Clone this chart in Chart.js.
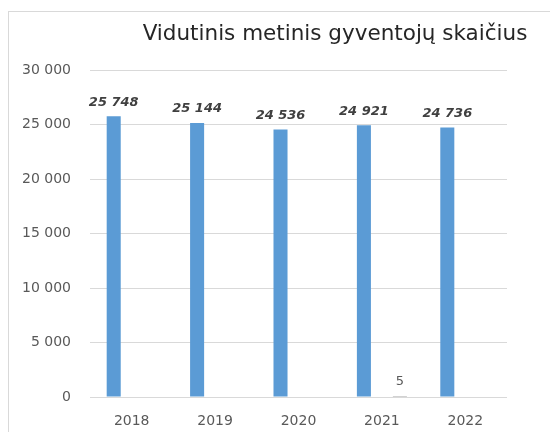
<!DOCTYPE html>
<html>
<head>
<meta charset="utf-8">
<script src="https://cdn.jsdelivr.net/npm/chart.js@4"></script>
<style>
  html, body { margin: 0; background: #fff; overflow: hidden; }
  #frame { position: absolute; left: 8px; top: 11px; width: 541px; height: 420px;
           border-left: 1px solid #d9d9d9; border-top: 1px solid #d9d9d9; }
  #wrap { position: absolute; left: 0; top: 0; width: 550px; height: 432px; }
</style>
</head>
<body>
<div id="frame"></div>
<div id="wrap"><canvas id="chart" width="550" height="432"></canvas></div>
<script>
const chartTitle = "Vidutinis metinis gyventojų skaičius";
const years = ["2018", "2019", "2020", "2021", "2022"];
const population = [25748, 25144, 24536, 24921, 24736];
const otherSeries = [null, null, null, 5, null];
const yTicks = [0, 5000, 10000, 15000, 20000, 25000, 30000];

function fmt(v) {
    return String(v).replace(/\B(?=(\d{3})+(?!\d))/g, " ");
}

// draws the title and the value labels above the bars
const labelPlugin = {
    id: "labels",
    afterDatasetsDraw(chart) {
        const ctx = chart.ctx;
        ctx.save();
        ctx.fillStyle = "#262626";
        ctx.font = "21.5px 'DejaVu Sans'";
        ctx.textAlign = "center";
        ctx.textBaseline = "middle";
        ctx.fillText(chartTitle, 335, 34);

        chart.data.datasets.forEach((ds, i) => {
            const meta = chart.getDatasetMeta(i);
            meta.data.forEach((bar, j) => {
                const v = ds.data[j];
                if (v === null) return;
                ctx.font = i === 0 ? "italic bold 13px 'DejaVu Sans'" : "13px 'DejaVu Sans'";
                ctx.fillStyle = i === 0 ? "#404040" : "#595959";
                ctx.fillText(fmt(v), bar.x, bar.y - 14);
            });
        });
        ctx.restore();
    }
};

new Chart(document.getElementById("chart"), {
    type: "bar",
    data: {
        labels: years,
        datasets: [{
            data: population,
            backgroundColor: "#5B9BD5",
            barPercentage: 0.39,
            categoryPercentage: 0.863
        }, {
            data: otherSeries,
            backgroundColor: "#A5A5A5",
            minBarLength: 1,
            barPercentage: 0.39,
            categoryPercentage: 0.863
        }]
    },
    options: {
        responsive: false,
        animation: false,
        layout: { padding: { top: 70, right: 43, left: 0, bottom: 0 } },
        plugins: {
            legend: { display: false },
            tooltip: { enabled: false }
        },
        scales: {
            x: {
                grid: { display: false },
                border: { display: false },
                ticks: { color: "#595959", font: { family: "DejaVu Sans", size: 14 }, padding: 8 },
                afterFit: s => { s.height = 35; }
            },
            y: {
                min: 0,
                max: 30000,
                afterBuildTicks: s => { s.ticks = yTicks.map(v => ({ value: v })); },
                grid: { color: "#d9d9d9", drawTicks: false },
                border: { display: false },
                ticks: {
                    color: "#595959",
                    font: { family: "DejaVu Sans", size: 14 },
                    padding: 19,
                    callback: v => fmt(v)
                },
                afterFit: s => { s.width = 90; }
            }
        }
    },
    plugins: [labelPlugin]
});
</script>
</body>
</html>
